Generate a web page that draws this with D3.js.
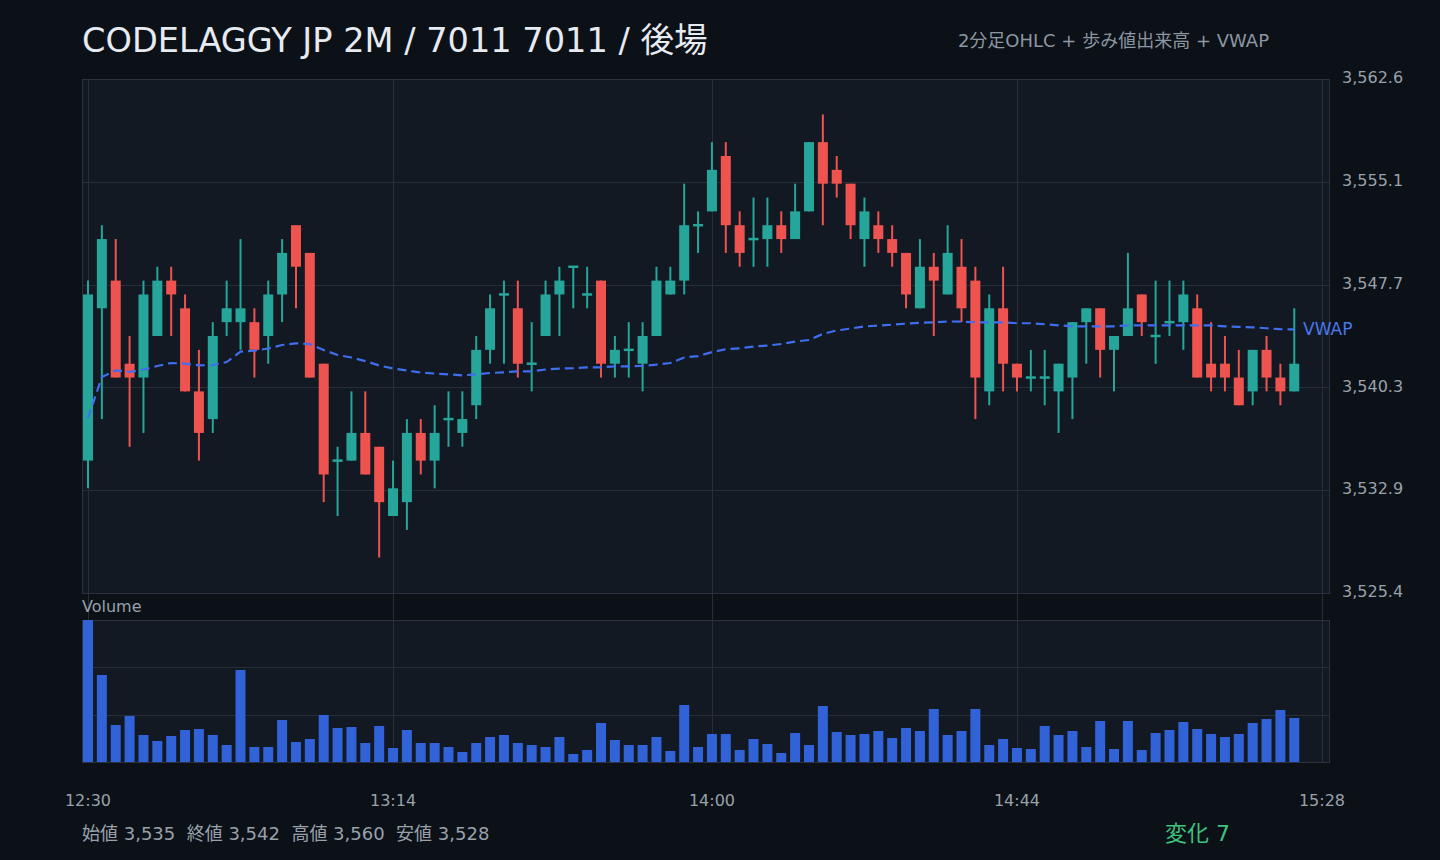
<!DOCTYPE html>
<html>
<head>
<meta charset="utf-8">
<script src="https://cdn.jsdelivr.net/npm/d3@7"></script>
<style>
  html, body { margin: 0; padding: 0; background: #0c1017; }
  svg { display: block; font-family: "DejaVu Sans", "Noto Sans CJK JP", sans-serif; }
</style>
</head>
<body>
<div id="chart"></div>
<script>
// 2-minute bars, afternoon session
const startTime = "12:30";
const opens = [
  3535, 3546, 3548, 3542, 3541, 3544, 3548, 3546, 3540, 3538,
  3545, 3545, 3545, 3544, 3547, 3552, 3550, 3542, 3535, 3535,
  3537, 3536, 3531, 3532, 3537, 3535, 3538, 3537, 3539, 3543,
  3547, 3546, 3542, 3544, 3547, 3549, 3547, 3548, 3542, 3543,
  3542, 3544, 3547, 3548, 3552, 3553, 3557, 3552, 3551, 3551,
  3552, 3551, 3553, 3558, 3556, 3555, 3551, 3552, 3551, 3550,
  3546, 3549, 3547, 3549, 3548, 3540, 3546, 3542, 3541, 3541,
  3540, 3541, 3545, 3546, 3543, 3544, 3547, 3544, 3545, 3545,
  3546, 3542, 3542, 3541, 3540, 3543, 3541, 3540
];
const highs = [
  3548, 3552, 3551, 3544, 3548, 3549, 3549, 3547, 3543, 3545,
  3548, 3551, 3546, 3548, 3551, 3552, 3550, 3542, 3536, 3540,
  3540, 3536, 3535, 3538, 3538, 3539, 3540, 3540, 3544, 3547,
  3548, 3548, 3545, 3548, 3549, 3549, 3549, 3548, 3544, 3545,
  3545, 3549, 3549, 3555, 3553, 3558, 3558, 3553, 3554, 3554,
  3553, 3555, 3558, 3560, 3557, 3555, 3554, 3553, 3552, 3550,
  3551, 3550, 3552, 3551, 3549, 3547, 3549, 3542, 3543, 3543,
  3542, 3545, 3546, 3546, 3544, 3550, 3547, 3548, 3548, 3548,
  3547, 3545, 3544, 3543, 3543, 3544, 3542, 3546
];
const lows = [
  3533, 3538, 3541, 3536, 3537, 3544, 3544, 3540, 3535, 3537,
  3544, 3543, 3541, 3542, 3545, 3546, 3541, 3532, 3531, 3535,
  3534, 3528, 3531, 3530, 3534, 3533, 3536, 3536, 3538, 3542,
  3542, 3541, 3540, 3544, 3544, 3546, 3546, 3541, 3541, 3541,
  3540, 3544, 3547, 3547, 3550, 3553, 3550, 3549, 3549, 3549,
  3550, 3551, 3553, 3552, 3554, 3551, 3549, 3550, 3549, 3546,
  3546, 3544, 3547, 3545, 3538, 3539, 3540, 3540, 3540, 3539,
  3537, 3538, 3542, 3541, 3540, 3544, 3544, 3542, 3544, 3543,
  3541, 3540, 3540, 3539, 3539, 3540, 3539, 3540
];
const closes = [
  3547, 3551, 3541, 3541, 3547, 3548, 3547, 3540, 3537, 3544,
  3546, 3546, 3543, 3547, 3550, 3549, 3541, 3534, 3535, 3537,
  3534, 3532, 3533, 3537, 3535, 3537, 3538, 3538, 3543, 3546,
  3547, 3542, 3542, 3547, 3548, 3549, 3547, 3542, 3543, 3543,
  3544, 3548, 3548, 3552, 3552, 3556, 3552, 3550, 3551, 3552,
  3551, 3553, 3558, 3555, 3555, 3552, 3553, 3551, 3550, 3547,
  3549, 3548, 3550, 3546, 3541, 3546, 3542, 3541, 3541, 3541,
  3542, 3545, 3546, 3543, 3544, 3546, 3545, 3544, 3545, 3547,
  3541, 3541, 3541, 3539, 3543, 3541, 3540, 3542
];
const volumes = [
  14200, 8700, 3700, 4600, 2700, 2100, 2600, 3200, 3300, 2700,
  1700, 9200, 1500, 1500, 4200, 2000, 2300, 4700, 3400, 3500,
  1900, 3600, 1400, 3200, 1900, 1900, 1500, 1000, 1900, 2500,
  2700, 1900, 1700, 1500, 2500, 800, 1200, 3900, 2200, 1700,
  1700, 2500, 1100, 5700, 1500, 2800, 2800, 1200, 2300, 1800,
  900, 2900, 1700, 5600, 3000, 2700, 2800, 3100, 2400, 3400,
  3100, 5300, 2700, 3100, 5300, 1700, 2300, 1400, 1300, 3600,
  2700, 3100, 1500, 4100, 1300, 4100, 1200, 2900, 3200, 4000,
  3300, 2800, 2500, 2800, 3900, 4300, 5200, 4400
];
const vwap = [
  3538.07, 3541.04, 3541.51, 3541.40, 3541.58, 3541.83, 3542.05, 3542.01, 3541.88, 3541.90,
  3542.12, 3542.87, 3542.94, 3543.10, 3543.35, 3543.47, 3543.42, 3542.99, 3542.63, 3542.45,
  3542.19, 3541.87, 3541.65, 3541.51, 3541.36, 3541.29, 3541.23, 3541.16, 3541.23, 3541.33,
  3541.38, 3541.45, 3541.45, 3541.58, 3541.65, 3541.67, 3541.74, 3541.74, 3541.81, 3541.81,
  3541.85, 3541.93, 3542.05, 3542.45, 3542.55, 3542.84, 3543.05, 3543.11, 3543.24, 3543.31,
  3543.42, 3543.60, 3543.71, 3544.15, 3544.40, 3544.54, 3544.69, 3544.75, 3544.82, 3544.89,
  3544.96, 3544.99, 3545.05, 3545.04, 3544.99, 3544.99, 3544.99, 3544.92, 3544.92, 3544.85,
  3544.77, 3544.70, 3544.70, 3544.70, 3544.70, 3544.76, 3544.77, 3544.77, 3544.77, 3544.77,
  3544.77, 3544.77, 3544.70, 3544.66, 3544.63, 3544.56, 3544.49, 3544.48
];
const timeTicks = ["12:30", "13:14", "14:00", "14:44", "15:28"];

const up = "#26a69a", down = "#ef5350";
const gridColor = "#262e38", labelColor = "#98a1ac";

// panels
const plot = { left: 82, right: 1330, top: 79, bottom: 593 };
const volPanel = { top: 620, bottom: 762 };

const svg = d3.select("#chart")
  .append("svg")
  .attr("width", 1440)
  .attr("height", 860);

svg.append("rect").attr("width", 1440).attr("height", 860).attr("fill", "#0c1017");

const parse = d3.timeParse("%H:%M");
const data = opens.map((o, i) => ({
  t: d3.timeMinute.offset(parse(startTime), i * 2),
  o: o, h: highs[i], l: lows[i], c: closes[i], v: volumes[i], vwap: vwap[i]
}));

const x = d3.scaleTime()
  .domain([parse(timeTicks[0]), parse(timeTicks[timeTicks.length - 1])])
  .range([88, 1322]);

// price scale padded 8% of the day's range
const lo = d3.min(lows), hi = d3.max(highs);
const pad = (hi - lo) * 0.08;
const y = d3.scaleLinear().domain([lo - pad, hi + pad]).range([plot.bottom, plot.top]);
const priceTicks = d3.range(6).map(i => (lo - pad) + i * (hi - lo + 2 * pad) / 5);

const yv = d3.scaleLinear().domain([0, d3.max(volumes)]).range([volPanel.bottom, volPanel.top]);
const volTicks = d3.range(4).map(i => i * d3.max(volumes) / 3);

// panel backgrounds
svg.append("rect")
  .attr("x", plot.left).attr("y", plot.top)
  .attr("width", plot.right - plot.left).attr("height", plot.bottom - plot.top)
  .attr("fill", "#121922");
svg.append("rect")
  .attr("x", plot.left).attr("y", volPanel.top)
  .attr("width", plot.right - plot.left).attr("height", volPanel.bottom - volPanel.top)
  .attr("fill", "#121922");

// grid
svg.append("g").selectAll("line")
  .data(priceTicks)
  .join("line")
  .attr("x1", plot.left).attr("x2", plot.right)
  .attr("y1", d => Math.round(y(d)) + 0.5).attr("y2", d => Math.round(y(d)) + 0.5)
  .attr("stroke", gridColor);

svg.append("g").selectAll("line")
  .data(volTicks)
  .join("line")
  .attr("x1", plot.left).attr("x2", plot.right)
  .attr("y1", d => Math.round(yv(d)) + 0.5).attr("y2", d => Math.round(yv(d)) + 0.5)
  .attr("stroke", gridColor);

svg.append("g").selectAll("line")
  .data(timeTicks)
  .join("line")
  .attr("x1", d => Math.round(x(parse(d))) + 0.5).attr("x2", d => Math.round(x(parse(d))) + 0.5)
  .attr("y1", plot.top).attr("y2", volPanel.bottom)
  .attr("stroke", gridColor);

// panel borders
[[plot.top, plot.bottom], [volPanel.top, volPanel.bottom]].forEach(([t, b]) => {
  svg.append("rect")
    .attr("x", plot.left + 0.5).attr("y", t + 0.5)
    .attr("width", plot.right - plot.left - 1).attr("height", b - t)
    .attr("fill", "none")
    .attr("stroke", "#2a323d");
});

// candles
const bw = 10;
const candles = svg.append("g").selectAll("g")
  .data(data)
  .join("g");

candles.append("line")
  .attr("x1", d => x(d.t)).attr("x2", d => x(d.t))
  .attr("y1", d => y(d.h)).attr("y2", d => y(d.l))
  .attr("stroke", d => d.c >= d.o ? up : down)
  .attr("stroke-width", 2);

candles.append("rect")
  .attr("x", d => x(d.t) - bw / 2)
  .attr("y", d => y(Math.max(d.o, d.c)) - (d.o === d.c ? 1.25 : 0))
  .attr("width", bw)
  .attr("height", d => Math.max(2.5, Math.abs(y(d.o) - y(d.c))))
  .attr("fill", d => d.c >= d.o ? up : down);

// VWAP
svg.append("path")
  .datum(data)
  .attr("fill", "none")
  .attr("stroke", "#3f6ff0")
  .attr("stroke-width", 2.2)
  .attr("stroke-dasharray", "9,5")
  .attr("d", d3.line().x(d => x(d.t)).y(d => y(d.vwap)));

svg.append("text")
  .attr("x", 1303).attr("y", y(vwap[vwap.length - 1]))
  .attr("dy", "0.35em")
  .attr("fill", "#4a78ea")
  .attr("font-size", 17)
  .text("VWAP");

// volume
svg.append("g").selectAll("rect")
  .data(data)
  .join("rect")
  .attr("x", d => x(d.t) - bw / 2)
  .attr("y", d => yv(d.v))
  .attr("width", bw)
  .attr("height", d => yv(0) - yv(d.v))
  .attr("fill", "#3162d8");

// axis labels
svg.append("g").selectAll("text")
  .data(priceTicks)
  .join("text")
  .attr("x", 1342).attr("y", d => y(d))
  .attr("dy", "0.26em")
  .attr("fill", labelColor)
  .attr("font-size", 16)
  .text(d3.format(",.1f"));

svg.append("g").selectAll("text")
  .data(timeTicks)
  .join("text")
  .attr("x", d => x(parse(d))).attr("y", 806)
  .attr("text-anchor", "middle")
  .attr("fill", labelColor)
  .attr("font-size", 16)
  .text(d => d);

svg.append("text")
  .attr("x", 82).attr("y", 612)
  .attr("fill", labelColor)
  .attr("font-size", 16)
  .text("Volume");

// titles
svg.append("text")
  .attr("x", 82).attr("y", 52)
  .attr("fill", "#e6ebf2")
  .attr("font-size", 33.6)
  .text("CODELAGGY JP 2M / 7011 7011 / 後場");

svg.append("text")
  .attr("x", 1269).attr("y", 47)
  .attr("text-anchor", "end")
  .attr("fill", "#8c96a2")
  .attr("font-size", 18)
  .text("2分足OHLC + 歩み値出来高 + VWAP");

// summary footer
const fmt = d3.format(",");
svg.append("text")
  .attr("x", 82).attr("y", 840)
  .attr("fill", labelColor)
  .attr("font-size", 18)
  .style("white-space", "pre")
  .text(`始値 ${fmt(opens[0])}  終値 ${fmt(closes[closes.length - 1])}  高値 ${fmt(hi)}  安値 ${fmt(lo)}`);

svg.append("text")
  .attr("x", 1230).attr("y", 841)
  .attr("text-anchor", "end")
  .attr("fill", "#3fc27d")
  .attr("font-size", 22)
  .text(`変化 ${closes[closes.length - 1] - opens[0]}`);
</script>
</body>
</html>
